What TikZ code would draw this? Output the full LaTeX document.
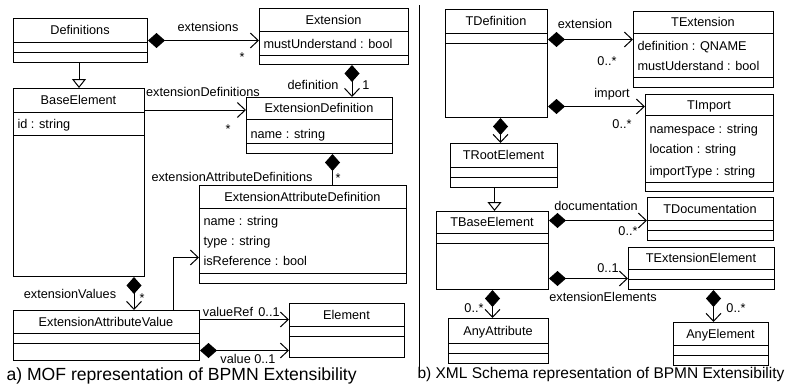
\documentclass[tikz,border=0pt]{standalone}
\usepackage{fontspec}
\setmainfont{Liberation Sans}
\usetikzlibrary{arrows.meta}

\begin{document}
\begin{tikzpicture}[x=1pt,y=-1pt,line width=1pt,
  every node/.style={font=\fontsize{12.7}{14}\selectfont,inner sep=0pt},
  cls/.style={draw,anchor=north west,inner sep=0pt,outer sep=0.5pt},
  ttl/.style={text height=9pt,text depth=0pt},
  attr/.style={anchor=base west},
  lbl/.style={anchor=base},
  comp/.style={{Diamond[length=17pt,width=15pt]}-{Straight Barb[length=8pt,width=15pt]}},
  own/.style={{Diamond[length=17pt,width=15pt]}-},
  assoc/.style={-{Straight Barb[length=8pt,width=15pt]}},
  gen/.style={-{Triangle[open,length=9pt,width=14pt]}}]
  \useasboundingbox (0,0) rectangle (787,383);

  % a) MOF side
  \node[cls,minimum width=134pt,minimum height=44pt] (defs) at (13,18) {};
  \node[ttl] (defs-t) at (80,30) {Definitions};
  \draw (13,42) -- (147,42); \draw (13,52) -- (147,52);

  \node[cls,minimum width=149pt,minimum height=56pt] (ext) at (259,8) {};
  \node[ttl] (ext-t) at (333.5,19.5) {Extension};
  \node[attr] (ext-a1) at (263,48) {mustUnderstand : bool};
  \draw (259,31) -- (408,31); \draw (259,55) -- (408,55);

  \node[cls,minimum width=131pt,minimum height=188pt] (base) at (13,88) {};
  \node[ttl] (base-t) at (78.5,100) {BaseElement};
  \node[attr] (base-a1) at (17,128) {id : string};
  \draw (13,112) -- (144,112); \draw (13,135) -- (144,135);

  \node[cls,minimum width=146pt,minimum height=56pt] (extdef) at (246,97) {};
  \node[ttl] (extdef-t) at (319,108) {ExtensionDefinition};
  \node[attr] (extdef-a1) at (250,138) {name : string};
  \draw (246,119) -- (392,119); \draw (246,143) -- (392,143);

  \node[cls,minimum width=207pt,minimum height=98pt] (ead) at (199,185) {};
  \node[ttl] (ead-t) at (302.5,196.5) {ExtensionAttributeDefinition};
  \node[attr] (ead-a1) at (203,225) {name : string};
  \node[attr] (ead-a2) at (203,245) {type : string};
  \node[attr] (ead-a3) at (203,265) {isReference : bool};
  \draw (199,208) -- (406,208); \draw (199,273) -- (406,273);

  \node[cls,minimum width=186pt,minimum height=50pt] (eav) at (13,310) {};
  \node[ttl] (eav-t) at (106,321.5) {ExtensionAttributeValue};
  \draw (13,333) -- (199,333); \draw (13,343) -- (199,343);

  \node[cls,minimum width=115pt,minimum height=54pt] (elem) at (289,303) {};
  \node[ttl] (elem-t) at (346.5,314.5) {Element};
  \draw (289,326) -- (404,326); \draw (289,336) -- (404,336);

  \draw[comp] (defs.east) -- (defs.east -| ext.west);
  \node[lbl] (l-exts) at (208,31.5) {extensions};
  \node[lbl] (m-exts) at (242,61) {*};
  \draw[gen] (defs.south -| base.north) -- (base.north);
  \draw[comp] ([xshift=18pt]ext.south) coordinate (c3) -- (c3 |- extdef.north);
  \node[lbl] (l-def) at (313,89) {definition};
  \node[lbl] (m-def) at (366,89) {1};
  \draw[assoc] ([yshift=-22pt]base.north east) coordinate (c4) -- (c4 -| extdef.west);
  \node[lbl] (l-extdefs) at (203,96) {extensionDefinitions};
  \node[lbl] (m-extdefs) at (228,133) {*};
  \draw[own] ([xshift=13pt]extdef.south) coordinate (c5) -- (c5 |- ead.north);
  \node[lbl] (l-eads) at (232,181) {extensionAttributeDefinitions};
  \node[lbl] (m-eads) at (338,182) {*};
  \draw[comp] ([xshift=-11pt]base.south east) coordinate (c6) -- (c6 |- eav.north);
  \node[lbl] (l-vals) at (70,298) {extensionValues};
  \node[lbl] (m-vals) at (142,302) {*};
  \draw[assoc] ([xshift=-27pt]eav.north east) |- ([yshift=-23pt]ead.west);
  \draw[assoc] ([yshift=16pt]eav.east) coordinate (c8) -- (c8 -| elem.west);
  \node[lbl] (l-vref) at (228,316) {valueRef};
  \node[lbl] (m-vref) at (269,316) {0..1};
  \draw[comp] ([yshift=-15pt]eav.east) coordinate (c9) -- (c9 -| elem.west);
  \node[lbl] (l-val) at (248,363) {value 0..1};

  \node[anchor=base west,font=\fontsize{17.6}{19}\selectfont] (cap-a) at (6,380) {a) MOF representation of BPMN Extensibility};

  % separator
  \coordinate (sep1) at (419,5);
  \coordinate (sep2) at (419,373);
  \draw (sep1) -- (sep2);

  % b) XML Schema side
  \node[cls,minimum width=102pt,minimum height=108pt] (tdef) at (445,9) {};
  \node[ttl] (tdef-t) at (496,21) {TDefinition};
  \draw (445,33) -- (547,33); \draw (445,43) -- (547,43);

  \node[cls,minimum width=140pt,minimum height=76pt] (text) at (633,11) {};
  \node[ttl] (text-t) at (703,22) {TExtension};
  \node[attr] (text-a1) at (637,50) {definition : QNAME};
  \node[attr] (text-a2) at (637,70) {mustUderstand : bool};
  \draw (633,33) -- (773,33); \draw (633,77) -- (773,77);

  \node[cls,minimum width=128pt,minimum height=97pt] (timp) at (645,94) {};
  \node[ttl] (timp-t) at (709,104.5) {TImport};
  \node[attr] (timp-a1) at (649,133) {namespace : string};
  \node[attr] (timp-a2) at (649,153) {location : string};
  \node[attr] (timp-a3) at (649,175) {importType : string};
  \draw (645,115) -- (773,115); \draw (645,182) -- (773,182);

  \node[cls,minimum width=107pt,minimum height=44pt] (troot) at (450,143) {};
  \node[ttl] (troot-t) at (503.5,155) {TRootElement};
  \draw (450,167) -- (557,167); \draw (450,177) -- (557,177);

  \node[cls,minimum width=112pt,minimum height=78pt] (tbase) at (436,211) {};
  \node[ttl] (tbase-t) at (492,222) {TBaseElement};
  \draw (436,233) -- (548,233); \draw (436,243) -- (548,243);

  \node[cls,minimum width=126pt,minimum height=43pt] (tdoc) at (647,197) {};
  \node[ttl] (tdoc-t) at (710,208.5) {TDocumentation};
  \draw (647,220) -- (773,220); \draw (647,230) -- (773,230);

  \node[cls,minimum width=146pt,minimum height=42pt] (textel) at (628,247) {};
  \node[ttl] (textel-t) at (701,258) {TExtensionElement};
  \draw (628,269) -- (774,269); \draw (628,279) -- (774,279);

  \node[cls,minimum width=100pt,minimum height=45pt] (anyattr) at (448,318) {};
  \node[ttl] (anyattr-t) at (498,330.5) {AnyAttribute};
  \draw (448,343) -- (548,343); \draw (448,353) -- (548,353);

  \node[cls,minimum width=95pt,minimum height=43pt] (anyel) at (673,322) {};
  \node[ttl] (anyel-t) at (720.5,333.5) {AnyElement};
  \draw (673,345) -- (768,345); \draw (673,355) -- (768,355);

  \draw[comp] ([yshift=24pt]tdef.east) coordinate (c10) -- (c10 -| text.west);
  \node[lbl] (l-text) at (585,28) {extension};
  \node[lbl] (m-text) at (607,65) {0..*};
  \draw[comp] ([yshift=-43pt]tdef.east) coordinate (c11) -- (c11 -| timp.west);
  \node[lbl] (l-timp) at (612,97) {import};
  \node[lbl] (m-timp) at (622,128) {0..*};
  \draw[comp] ([xshift=4pt]tdef.south) coordinate (c12) -- (c12 |- troot.north);
  \draw[gen] ([xshift=2pt]troot.south -| tbase.north) coordinate (c13) -- (c13 |- tbase.north);
  \draw[comp] ([yshift=30pt]tbase.east) coordinate (c14) -- (c14 -| tdoc.west);
  \node[lbl] (l-tdoc) at (596,210) {documentation};
  \node[lbl] (m-tdoc) at (628,235) {0..*};
  \draw[comp] ([yshift=-28pt]tbase.east) coordinate (c15) -- (c15 -| textel.west);
  \node[lbl] (m-textel) at (608,272) {0..1};
  \node[lbl] (l-textel) at (603,301) {extensionElements};
  \draw[comp] (tbase.south) -- (tbase.south |- anyattr.north);
  \node[lbl] (m-anyattr) at (474,312) {0..*};
  \draw[comp] ([xshift=12pt]textel.south) coordinate (c17) -- (c17 |- anyel.north);
  \node[lbl] (m-anyel) at (736,312) {0..*};

  \node[anchor=base west,font=\fontsize{15.5}{17}\selectfont] (cap-b) at (417,378) {b) XML Schema representation of BPMN Extensibility};
\end{tikzpicture}
\end{document}
